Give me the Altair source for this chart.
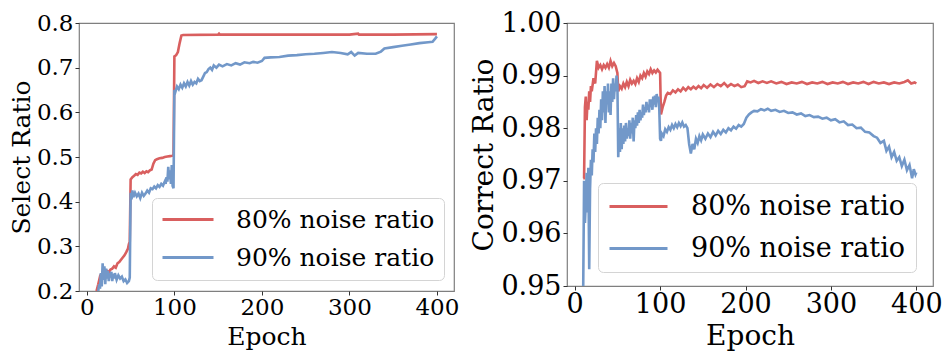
import altair as alt
import pandas as pd

SERIES = ["80% noise ratio", "90% noise ratio"]
COLORS = ["#d95f5f", "#7298c9"]
FONT = "DejaVu Serif"

X_TICKS = [0, 100, 200, 300, 400]
SELECT_TICKS = [0.2, 0.3, 0.4, 0.5, 0.6, 0.7, 0.8]
CORRECT_TICKS = [0.95, 0.96, 0.97, 0.98, 0.99, 1.00]

# (epoch, select ratio) – 80% noise
select_80 = [
    (11, 0.200), (13, 0.215), (15, 0.232), (17, 0.228), (19, 0.240), (21, 0.236), (23, 0.245),
    (25, 0.242), (27, 0.248), (29, 0.250), (31, 0.255), (33, 0.252), (35, 0.262), (37, 0.265),
    (39, 0.270), (41, 0.275), (43, 0.280), (45, 0.287), (47, 0.295), (48, 0.305), (49, 0.310),
    (50, 0.450), (52, 0.455), (54, 0.458), (56, 0.462), (58, 0.460), (60, 0.465), (62, 0.463),
    (64, 0.467), (66, 0.464), (68, 0.468), (70, 0.466), (72, 0.470), (74, 0.472), (76, 0.485),
    (78, 0.493), (80, 0.495), (83, 0.497), (86, 0.498), (89, 0.500), (92, 0.501), (95, 0.502),
    (98, 0.503), (99, 0.505), (100, 0.725), (102, 0.728), (104, 0.735), (106, 0.755),
    (108, 0.772), (110, 0.773), (150, 0.774), (151, 0.776), (152, 0.774), (200, 0.774),
    (250, 0.774), (300, 0.774), (310, 0.776), (311, 0.774), (350, 0.774), (400, 0.775),
]

# (epoch, select ratio) – 90% noise
select_90 = [
    (13, 0.200), (14, 0.215), (15, 0.205), (16, 0.240), (17, 0.210), (18, 0.262), (19, 0.225),
    (20, 0.255), (21, 0.215), (22, 0.250), (23, 0.228), (24, 0.245), (25, 0.222), (26, 0.240),
    (27, 0.230), (28, 0.243), (29, 0.222), (30, 0.238), (31, 0.228), (32, 0.240), (34, 0.225),
    (36, 0.235), (38, 0.228), (40, 0.232), (42, 0.222), (44, 0.226), (46, 0.218), (48, 0.222),
    (49, 0.230), (50, 0.420), (51, 0.405), (52, 0.425), (53, 0.410), (55, 0.420), (57, 0.412),
    (59, 0.418), (61, 0.408), (63, 0.420), (65, 0.413), (67, 0.418), (69, 0.425), (71, 0.420),
    (73, 0.430), (75, 0.428), (77, 0.434), (79, 0.430), (81, 0.437), (83, 0.433), (85, 0.440),
    (87, 0.436), (89, 0.445), (90, 0.440), (91, 0.455), (92, 0.445), (93, 0.478), (94, 0.450),
    (95, 0.470), (96, 0.440), (97, 0.482), (98, 0.435), (99, 0.430), (100, 0.650), (101, 0.645),
    (103, 0.658), (105, 0.652), (107, 0.662), (109, 0.655), (111, 0.665), (113, 0.658),
    (115, 0.668), (117, 0.660), (119, 0.670), (121, 0.662), (123, 0.668), (125, 0.665),
    (127, 0.675), (129, 0.670), (131, 0.672), (133, 0.680), (135, 0.688), (137, 0.690),
    (139, 0.697), (141, 0.700), (143, 0.695), (145, 0.705), (148, 0.700), (151, 0.707),
    (155, 0.703), (160, 0.708), (165, 0.705), (170, 0.710), (175, 0.707), (180, 0.712),
    (186, 0.710), (190, 0.713), (195, 0.711), (200, 0.715), (203, 0.722), (210, 0.723),
    (220, 0.724), (230, 0.727), (240, 0.728), (250, 0.730), (260, 0.731), (270, 0.733),
    (280, 0.735), (290, 0.733), (298, 0.730), (302, 0.735), (306, 0.727), (310, 0.733),
    (320, 0.731), (330, 0.731), (336, 0.736), (340, 0.743), (350, 0.746), (360, 0.749),
    (370, 0.752), (380, 0.755), (390, 0.757), (395, 0.758), (398, 0.765), (400, 0.770),
]

# (epoch, correct ratio) – 80% noise
correct_80 = [
    (10, 0.9705), (11, 0.9705), (12, 0.9840), (13, 0.9860), (14, 0.9815), (15, 0.9850),
    (16, 0.9835), (17, 0.9870), (18, 0.9850), (19, 0.9880), (20, 0.9870), (22, 0.9895),
    (24, 0.9885), (26, 0.9928), (28, 0.9915), (30, 0.9920), (32, 0.9912), (34, 0.9920),
    (36, 0.9915), (38, 0.9922), (40, 0.9915), (42, 0.9928), (44, 0.9918), (46, 0.9924),
    (48, 0.9918), (50, 0.9905), (51, 0.9870), (53, 0.9880), (55, 0.9875), (57, 0.9885),
    (59, 0.9878), (61, 0.9888), (63, 0.9880), (65, 0.9892), (67, 0.9885), (69, 0.9890),
    (71, 0.9884), (73, 0.9895), (75, 0.9888), (77, 0.9900), (79, 0.9895), (81, 0.9905),
    (83, 0.9898), (85, 0.9908), (87, 0.9903), (89, 0.9912), (91, 0.9905), (93, 0.9910),
    (95, 0.9906), (97, 0.9911), (99, 0.9907), (100, 0.9905), (101, 0.9826), (103, 0.9840),
    (105, 0.9850), (107, 0.9862), (109, 0.9867), (112, 0.9865), (115, 0.9872), (118, 0.9868),
    (121, 0.9874), (124, 0.9870), (127, 0.9877), (130, 0.9872), (133, 0.9878), (136, 0.9874),
    (139, 0.9879), (142, 0.9875), (145, 0.9880), (148, 0.9876), (151, 0.9882), (155, 0.9877),
    (159, 0.9883), (163, 0.9878), (167, 0.9884), (171, 0.9880), (175, 0.9886), (179, 0.9879),
    (183, 0.9884), (187, 0.9880), (191, 0.9883), (195, 0.9878), (199, 0.9880), (202, 0.9889),
    (206, 0.9887), (210, 0.9890), (215, 0.9886), (220, 0.9889), (225, 0.9886), (230, 0.9889),
    (236, 0.9885), (242, 0.9888), (248, 0.9884), (254, 0.9887), (260, 0.9885), (266, 0.9888),
    (272, 0.9884), (278, 0.9887), (284, 0.9885), (290, 0.9888), (296, 0.9884), (302, 0.9887),
    (308, 0.9885), (314, 0.9888), (320, 0.9884), (326, 0.9887), (332, 0.9885), (338, 0.9888),
    (344, 0.9884), (350, 0.9888), (356, 0.9885), (362, 0.9887), (368, 0.9884), (374, 0.9887),
    (380, 0.9885), (386, 0.9888), (390, 0.9891), (394, 0.9885), (398, 0.9887), (400, 0.9885),
]

# (epoch, correct ratio) – 90% noise
correct_90 = [
    (10, 0.9500), (11, 0.9700), (12, 0.9620), (13, 0.9660), (14, 0.9715), (15, 0.9640),
    (16, 0.9725), (17, 0.9532), (18, 0.9685), (19, 0.9740), (20, 0.9710), (21, 0.9760),
    (22, 0.9735), (23, 0.9790), (24, 0.9755), (25, 0.9800), (26, 0.9770), (27, 0.9820),
    (28, 0.9790), (29, 0.9835), (30, 0.9800), (31, 0.9855), (32, 0.9815), (33, 0.9870),
    (34, 0.9830), (35, 0.9880), (36, 0.9810), (37, 0.9870), (38, 0.9845), (39, 0.9885),
    (40, 0.9830), (41, 0.9870), (42, 0.9825), (43, 0.9885), (44, 0.9850), (45, 0.9895),
    (46, 0.9855), (47, 0.9885), (48, 0.9870), (49, 0.9900), (50, 0.9885), (51, 0.9745),
    (52, 0.9800), (53, 0.9755), (54, 0.9810), (55, 0.9760), (56, 0.9800), (57, 0.9770),
    (58, 0.9805), (59, 0.9775), (60, 0.9810), (61, 0.9780), (62, 0.9800), (63, 0.9785),
    (64, 0.9815), (65, 0.9780), (66, 0.9810), (67, 0.9790), (68, 0.9820), (69, 0.9775),
    (70, 0.9815), (71, 0.9800), (72, 0.9825), (73, 0.9805), (74, 0.9830), (75, 0.9810),
    (76, 0.9835), (77, 0.9815), (78, 0.9830), (79, 0.9820), (80, 0.9845), (81, 0.9825),
    (82, 0.9840), (83, 0.9830), (84, 0.9850), (85, 0.9835), (86, 0.9845), (87, 0.9830),
    (88, 0.9855), (89, 0.9840), (90, 0.9855), (91, 0.9835), (92, 0.9860), (93, 0.9845),
    (94, 0.9862), (95, 0.9840), (96, 0.9865), (97, 0.9850), (98, 0.9860), (99, 0.9838),
    (100, 0.9780), (101, 0.9776), (102, 0.9790), (104, 0.9785), (106, 0.9798), (108, 0.9793),
    (110, 0.9802), (112, 0.9797), (114, 0.9806), (116, 0.9800), (118, 0.9808), (120, 0.9802),
    (122, 0.9810), (124, 0.9804), (126, 0.9811), (128, 0.9803), (130, 0.9806), (132, 0.9800),
    (134, 0.9770), (136, 0.9752), (138, 0.9770), (140, 0.9760), (142, 0.9780), (144, 0.9772),
    (146, 0.9785), (148, 0.9777), (150, 0.9788), (153, 0.9780), (156, 0.9790), (159, 0.9783),
    (162, 0.9793), (165, 0.9786), (168, 0.9795), (171, 0.9789), (174, 0.9797), (177, 0.9792),
    (180, 0.9800), (183, 0.9796), (186, 0.9803), (189, 0.9799), (192, 0.9806), (195, 0.9803),
    (198, 0.9808), (201, 0.9820), (204, 0.9826), (207, 0.9830), (210, 0.9833), (214, 0.9832),
    (218, 0.9836), (222, 0.9834), (226, 0.9837), (230, 0.9833), (235, 0.9835), (240, 0.9831),
    (245, 0.9833), (250, 0.9829), (255, 0.9830), (260, 0.9826), (265, 0.9828), (270, 0.9823),
    (275, 0.9825), (280, 0.9821), (285, 0.9822), (290, 0.9818), (295, 0.9820), (300, 0.9815),
    (305, 0.9817), (310, 0.9811), (315, 0.9813), (320, 0.9806), (325, 0.9807), (330, 0.9800),
    (335, 0.9801), (340, 0.9793), (345, 0.9792), (350, 0.9785), (354, 0.9782), (358, 0.9772),
    (362, 0.9776), (365, 0.9757), (368, 0.9765), (371, 0.9745), (374, 0.9755), (377, 0.9738),
    (380, 0.9745), (383, 0.9728), (386, 0.9740), (389, 0.9720), (392, 0.9730), (395, 0.9705),
    (397, 0.9722), (399, 0.9712), (400, 0.9716),
]


def frame(pairs_a, pairs_b):
    rows = [{"epoch": e, "value": v, "series": SERIES[0]} for e, v in pairs_a]
    rows += [{"epoch": e, "value": v, "series": SERIES[1]} for e, v in pairs_b]
    return pd.DataFrame(rows)


def panel(df, ytitle, ydomain, yticks, fmt, w, h, lab, tit, leg, legx, legy,
          symsize, loff, cliph, rowpad, pad):
    x = alt.X(
        "epoch:Q",
        scale=alt.Scale(domain=[-9, 419.5], nice=False, zero=False),
        axis=alt.Axis(values=X_TICKS, title="Epoch", labelFontSize=lab,
                      titleFontSize=tit, labelPadding=1, titlePadding=5),
    )
    y = alt.Y(
        "value:Q",
        scale=alt.Scale(domain=ydomain, nice=False, zero=False),
        axis=alt.Axis(values=yticks, format=fmt, title=ytitle, labelFontSize=lab,
                      titleFontSize=tit, labelPadding=2, titlePadding=2),
    )
    color = alt.Color(
        "series:N",
        scale=alt.Scale(domain=SERIES, range=COLORS),
        legend=alt.Legend(
            title=None, orient="none", legendX=legx, legendY=legy,
            symbolType="stroke", symbolSize=symsize, symbolStrokeWidth=3,
            clipHeight=cliph, rowPadding=rowpad, labelOffset=loff, padding=pad,
            labelFont=FONT, labelFontSize=leg, labelColor="black", labelLimit=500,
            fillColor="white", strokeColor="#d4d4d4", cornerRadius=5,
        ),
    )
    return (
        alt.Chart(df)
        .mark_line(strokeWidth=2.6, clip=True)
        .encode(x=x, y=y, color=color)
        .properties(width=w, height=h)
    )


left = panel(frame(select_80, select_90), "Select Ratio", [0.2, 0.8], SELECT_TICKS, ".1f",
             375, 268, 23, 25, 25, 73, 175, 2601, 21, 25, 12, 9)
right = panel(frame(correct_80, correct_90), "Correct Ratio", [0.95, 1.0], CORRECT_TICKS, ".2f",
              366, 263, 27, 28, 27, 31, 160, 3364, 22, 27, 14, 10)

chart = (
    alt.hconcat(left, right, spacing=10, padding=0)
    .resolve_scale(color="independent")
    .resolve_legend(color="independent")
    .configure_view(stroke="#7f7f7f", strokeWidth=1.2)
    .configure_axis(
        domain=False, grid=False, ticks=True, tickSize=4, tickColor="#333333",
        labelFont=FONT, titleFont=FONT, labelColor="black", titleColor="black",
        titleFontWeight="normal",
    )
)

chart.save("out.html", embed_options={"renderer": "svg", "actions": False})
